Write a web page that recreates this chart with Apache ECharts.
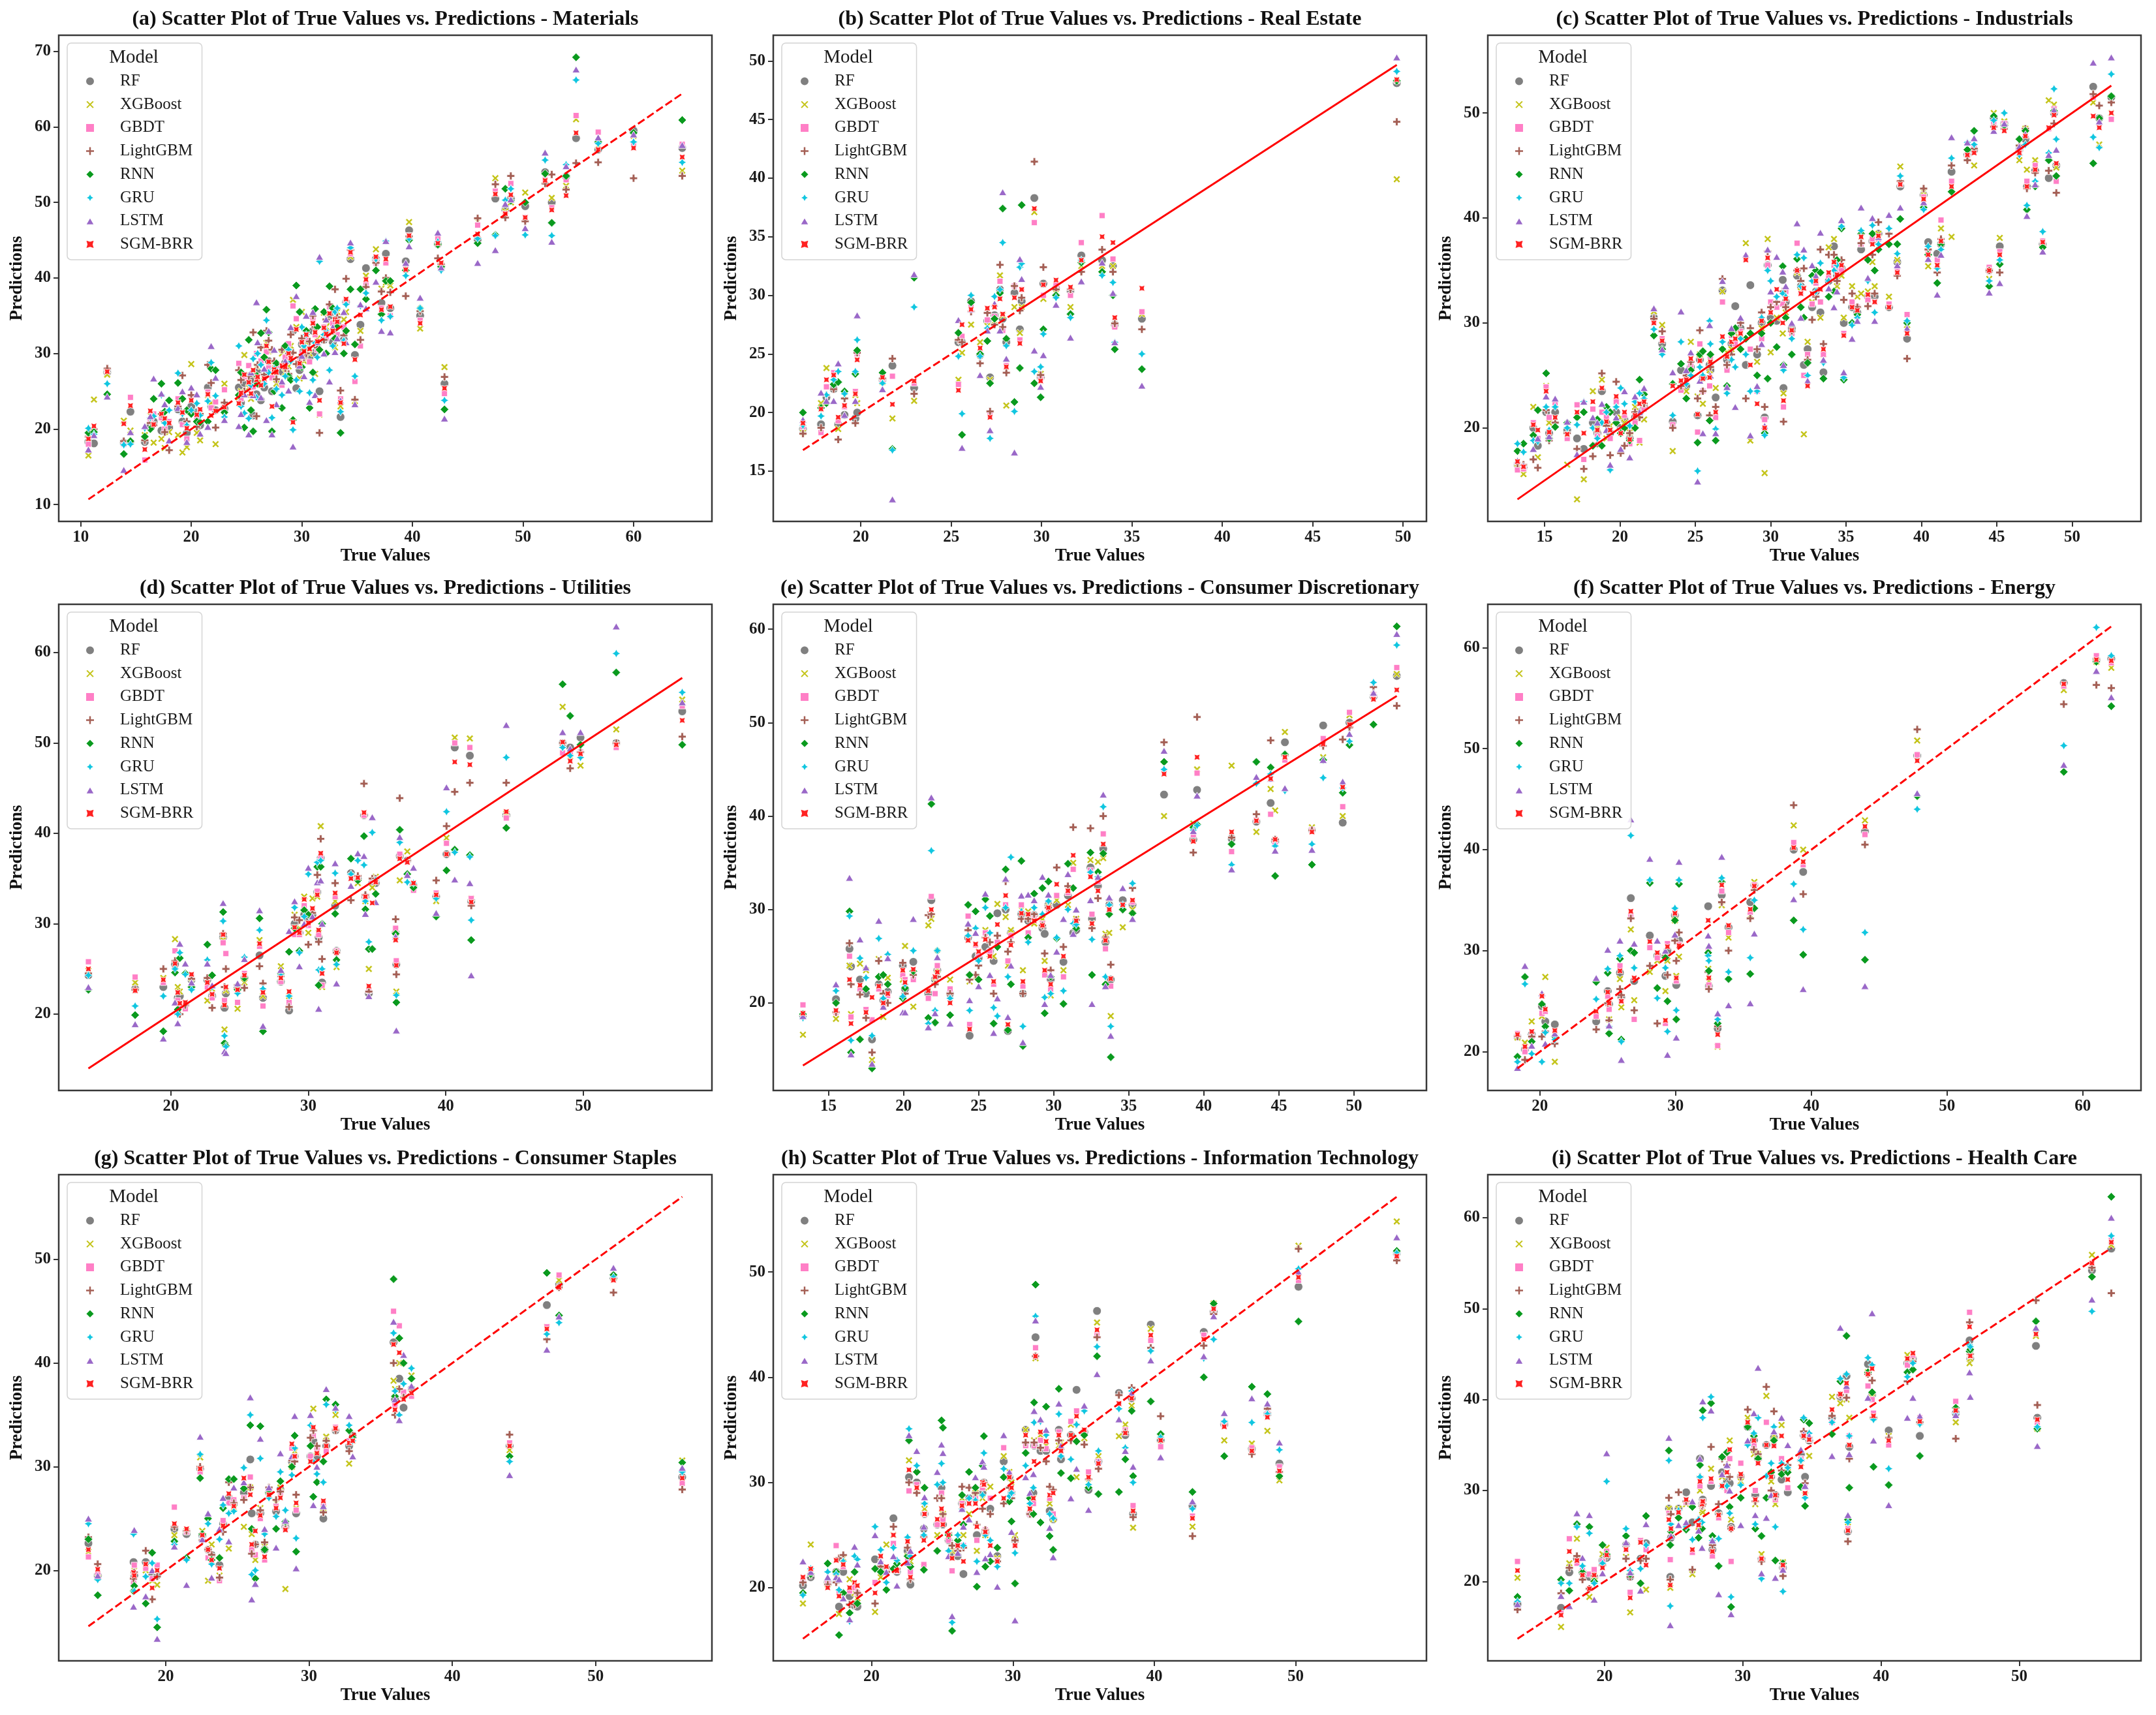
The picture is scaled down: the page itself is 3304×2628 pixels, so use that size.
<!DOCTYPE html>
<html>
<head>
<meta charset="utf-8">
<script src="https://cdn.jsdelivr.net/npm/echarts@6/dist/echarts.min.js"></script>
<style>
html, body { margin: 0; padding: 0; background: #fff; }
#chart { width: 3304px; height: 2628px; }
</style>
</head>
<body>
<div id="chart"></div>
<script>
// model order used in every row after the true value
var models = ['RF', 'XGBoost', 'GBDT', 'LightGBM', 'RNN', 'GRU', 'LSTM', 'SGM-BRR'];
var sectors = ['Materials', 'Real Estate', 'Industrials', 'Utilities', 'Consumer Discretionary',
               'Energy', 'Consumer Staples', 'Information Technology', 'Health Care'];
var letters = ['a', 'b', 'c', 'd', 'e', 'f', 'g', 'h', 'i'];

// rows: [true, RF, XGBoost, GBDT, LightGBM, RNN, GRU, LSTM, SGM-BRR]
var materialsRows = [
  [10.7, 18.3, 16.5, 18.0, 19.0, 19.5, 20.1, 17.3, 18.7],
  [11.2, 18.1, 23.9, 19.8, 20.0, 19.6, 19.3, 19.2, 20.4],
  [12.4, 27.5, 27.2, 27.8, 28.0, 24.6, 26.0, 24.3, 27.6],
  [13.9, 18.2, 21.1, 18.0, 18.4, 16.7, 17.9, 14.6, 20.7],
  [14.5, 22.3, 19.8, 24.2, 18.3, 18.4, 18.0, 19.6, 23.1],
  [15.8, 18.3, 19.2, 15.9, 18.5, 19.0, 20.1, 20.4, 17.3],
  [16.3, 20.4, 21.8, 21.1, 20.8, 20.0, 21.5, 21.7, 22.4],
  [16.6, 21.0, 18.2, 22.0, 20.5, 24.0, 21.7, 26.7, 20.6],
  [17.3, 19.8, 18.7, 21.5, 22.0, 26.0, 24.5, 24.7, 22.0],
  [17.6, 21.1, 17.5, 20.0, 19.6, 22.3, 20.8, 23.3, 21.4],
  [18.0, 20.2, 19.6, 21.0, 17.2, 23.8, 22.5, 18.5, 20.8],
  [18.8, 22.6, 19.2, 24.0, 23.0, 26.1, 27.4, 22.8, 23.5],
  [19.2, 21.0, 16.9, 20.6, 27.1, 24.0, 22.0, 25.0, 22.2],
  [19.6, 19.5, 17.6, 18.7, 21.0, 22.5, 20.5, 18.3, 20.1],
  [20.0, 23.0, 28.6, 24.2, 24.5, 22.0, 22.5, 25.5, 23.8],
  [20.5, 22.2, 19.5, 21.6, 20.3, 21.0, 23.4, 24.6, 21.9],
  [20.8, 20.5, 18.5, 22.3, 22.0, 20.9, 21.8, 19.4, 22.6],
  [21.5, 25.5, 24.5, 24.9, 28.5, 21.0, 23.7, 20.3, 24.6],
  [21.8, 23.0, 23.5, 22.8, 26.1, 28.0, 28.8, 31.0, 21.8],
  [22.2, 22.5, 18.0, 23.6, 20.2, 27.8, 24.4, 26.8, 22.4],
  [23.0, 22.7, 26.0, 25.2, 23.5, 22.2, 21.6, 21.2, 22.9],
  [24.3, 25.5, 24.2, 28.7, 27.8, 24.5, 31.0, 20.4, 23.4],
  [24.5, 23.5, 25.0, 24.0, 26.5, 27.5, 23.0, 22.0, 24.8],
  [24.8, 26.1, 29.8, 26.8, 25.0, 20.2, 22.1, 24.6, 27.2],
  [25.2, 27.0, 25.5, 28.4, 27.0, 31.8, 21.4, 19.3, 26.2],
  [25.4, 26.5, 24.0, 25.5, 24.5, 22.5, 25.8, 27.5, 24.7],
  [25.6, 21.8, 27.3, 25.6, 32.8, 19.7, 29.3, 24.5, 27.8],
  [25.9, 24.6, 28.3, 30.0, 21.7, 27.1, 24.2, 36.8, 26.5],
  [26.0, 27.5, 25.8, 27.0, 28.5, 26.0, 30.0, 31.5, 26.9],
  [26.3, 23.8, 26.3, 29.0, 30.8, 32.7, 28.5, 24.2, 25.8],
  [26.6, 25.5, 27.0, 26.2, 27.2, 29.5, 26.0, 28.0, 26.7],
  [26.8, 27.3, 31.4, 30.2, 33.0, 35.8, 34.4, 21.2, 31.0],
  [27.0, 29.0, 30.3, 28.1, 31.7, 32.8, 27.5, 33.0, 28.9],
  [27.3, 25.0, 27.2, 26.8, 30.5, 19.7, 21.5, 19.3, 23.0],
  [27.5, 27.0, 28.5, 27.8, 29.0, 25.0, 28.0, 30.5, 27.9],
  [27.7, 28.5, 26.0, 28.4, 26.6, 28.7, 25.3, 23.3, 27.5],
  [28.2, 27.6, 30.0, 25.8, 30.5, 22.8, 24.5, 26.3, 28.4],
  [28.5, 28.8, 27.5, 29.5, 28.0, 31.0, 27.0, 29.0, 28.2],
  [28.8, 29.8, 28.3, 31.3, 27.3, 27.0, 30.5, 25.1, 30.0],
  [29.0, 30.2, 31.0, 29.6, 32.5, 26.5, 29.0, 33.5, 29.4],
  [29.2, 33.0, 37.1, 36.3, 30.1, 21.2, 19.9, 17.7, 20.9],
  [29.5, 25.4, 33.5, 34.6, 28.6, 39.0, 26.5, 37.6, 33.2],
  [29.8, 27.8, 26.7, 29.3, 29.5, 35.5, 25.0, 28.4, 28.7],
  [30.0, 31.2, 35.5, 30.2, 32.0, 28.2, 33.5, 29.7, 31.5],
  [30.2, 29.8, 29.0, 30.8, 29.5, 30.5, 31.0, 27.0, 30.3],
  [30.4, 30.8, 31.5, 32.0, 30.0, 33.0, 32.5, 35.0, 32.5],
  [30.7, 29.5, 30.0, 28.9, 31.6, 22.8, 24.8, 23.6, 30.6],
  [31.0, 33.0, 34.1, 34.5, 35.0, 27.5, 26.5, 35.5, 34.0],
  [31.2, 30.1, 27.3, 32.5, 33.5, 35.9, 31.4, 24.5, 32.8],
  [31.4, 31.0, 32.0, 30.5, 30.8, 33.5, 29.5, 31.5, 31.6],
  [31.6, 25.0, 21.9, 22.0, 19.5, 30.5, 42.2, 42.8, 23.8],
  [32.0, 31.8, 35.4, 33.5, 31.8, 35.5, 32.5, 30.0, 33.4],
  [32.2, 32.5, 33.5, 32.0, 34.5, 30.0, 33.0, 34.5, 32.6],
  [32.5, 35.0, 34.0, 36.2, 36.5, 38.9, 27.8, 26.3, 35.3],
  [32.8, 31.5, 32.8, 34.0, 33.0, 36.0, 31.0, 33.5, 33.0],
  [33.0, 33.6, 30.8, 33.2, 38.5, 32.0, 35.5, 30.2, 34.5],
  [33.2, 34.0, 35.5, 32.5, 34.8, 33.5, 36.0, 32.0, 34.2],
  [33.5, 21.6, 23.0, 24.0, 25.1, 19.5, 22.3, 23.8, 23.5],
  [33.8, 31.8, 34.5, 33.5, 32.4, 30.0, 31.7, 35.5, 31.3],
  [34.0, 36.8, 35.5, 37.0, 39.9, 33.0, 36.5, 31.5, 37.2],
  [34.4, 42.5, 42.8, 43.2, 43.7, 38.5, 44.0, 44.7, 43.4],
  [34.8, 29.8, 23.7, 26.3, 23.9, 31.2, 27.0, 23.3, 29.2],
  [35.3, 33.8, 33.0, 31.0, 31.8, 38.5, 36.3, 36.5, 35.1],
  [35.8, 41.3, 40.3, 39.3, 38.8, 37.2, 38.0, 36.0, 39.8],
  [36.7, 42.5, 43.8, 42.0, 42.0, 41.0, 42.5, 39.5, 42.8],
  [37.2, 36.7, 38.6, 36.0, 38.2, 35.2, 34.4, 33.0, 35.8],
  [37.6, 43.2, 39.4, 42.0, 40.0, 39.6, 44.9, 44.9, 42.5],
  [38.0, 36.0, 39.0, 35.0, 38.1, 39.6, 34.9, 32.8, 36.2],
  [39.4, 42.2, 41.5, 41.5, 37.6, 41.0, 40.3, 42.0, 41.1],
  [39.7, 46.3, 47.4, 45.6, 45.5, 45.0, 45.2, 44.2, 45.6],
  [40.7, 35.0, 33.3, 34.4, 35.6, 36.0, 36.0, 37.4, 34.0],
  [42.3, 44.5, 45.0, 45.2, 42.6, 44.4, 44.8, 46.0, 44.6],
  [42.6, 41.5, 41.7, 41.2, 41.8, 41.5, 41.0, 41.4, 42.0],
  [42.9, 26.0, 28.2, 24.7, 26.9, 22.6, 23.8, 21.4, 25.4],
  [45.9, 45.1, 47.5, 47.0, 47.9, 44.6, 45.2, 42.0, 45.8],
  [47.5, 50.5, 53.2, 51.5, 52.4, 45.7, 45.6, 43.7, 51.1],
  [48.4, 49.0, 48.8, 48.5, 48.0, 51.8, 50.3, 49.8, 48.5],
  [48.9, 50.5, 50.0, 52.5, 53.5, 50.2, 51.8, 50.4, 51.0],
  [50.2, 49.5, 51.3, 48.0, 47.5, 50.0, 45.7, 46.6, 48.0],
  [52.0, 54.0, 53.5, 53.0, 52.5, 53.8, 55.6, 56.6, 52.9],
  [52.6, 50.0, 50.6, 49.3, 53.7, 47.3, 45.6, 44.8, 49.0],
  [53.9, 53.4, 52.2, 53.0, 51.7, 53.5, 55.0, 54.8, 50.9],
  [54.8, 58.5, 61.0, 61.5, 55.2, 69.2, 66.2, 67.6, 59.2],
  [56.8, 57.0, 57.5, 59.3, 55.3, 58.0, 57.8, 58.6, 57.0],
  [60.0, 59.5, 58.8, 57.5, 53.2, 59.2, 58.0, 59.0, 57.2],
  [64.4, 57.2, 54.2, 57.7, 53.5, 60.9, 55.3, 57.6, 56.0]
];

var realEstateRows = [
  [16.8, 18.6, 18.3, 18.8, 18.2, 20.0, 18.9, 19.4, 19.1],
  [17.8, 19.0, 20.8, 18.3, 18.7, 20.4, 19.7, 21.7, 20.3],
  [18.1, 21.3, 23.8, 22.2, 21.5, 20.8, 21.5, 21.0, 22.8],
  [18.5, 22.0, 22.6, 23.4, 22.0, 22.4, 22.8, 21.0, 23.2],
  [18.75, 19.0, 18.6, 19.3, 17.7, 22.6, 23.5, 24.2, 19.6],
  [19.1, 19.8, 21.4, 20.5, 21.2, 21.8, 21.6, 19.8, 20.6],
  [19.7, 19.5, 21.5, 21.8, 19.1, 23.3, 23.5, 21.0, 21.6],
  [19.8, 20.0, 20.8, 25.0, 25.1, 25.3, 26.2, 28.3, 24.5],
  [21.2, 22.8, 22.6, 22.7, 22.9, 23.4, 22.5, 22.0, 23.0],
  [21.75, 24.0, 19.5, 23.1, 24.6, 16.9, 16.8, 12.6, 20.7],
  [22.95, 22.1, 21.0, 22.5, 21.6, 31.5, 29.0, 31.8, 22.7],
  [25.4, 26.0, 22.8, 22.4, 26.2, 26.8, 24.8, 27.9, 21.9],
  [25.6, 26.0, 25.1, 26.5, 26.0, 18.1, 19.9, 17.0, 27.5],
  [26.1, 29.5, 27.5, 29.0, 28.6, 29.4, 30.0, 28.8, 28.8],
  [26.6, 24.9, 26.0, 25.0, 24.2, 25.0, 24.8, 23.2, 25.5],
  [27.0, 27.8, 27.4, 27.9, 28.5, 26.1, 27.2, 27.0, 28.9],
  [27.15, 23.0, 22.8, 19.8, 20.1, 22.5, 17.8, 18.5, 19.6],
  [27.4, 28.3, 27.8, 28.2, 27.5, 28.0, 29.9, 29.3, 29.0],
  [27.7, 30.5, 31.7, 31.2, 32.6, 30.2, 30.5, 27.0, 29.7],
  [27.85, 28.0, 28.3, 27.0, 27.3, 37.4, 34.5, 38.8, 28.4],
  [28.05, 26.0, 20.6, 24.0, 23.4, 26.3, 25.7, 24.6, 23.9],
  [28.5, 30.2, 29.0, 30.8, 30.8, 20.9, 20.1, 16.6, 29.8],
  [28.8, 27.1, 26.8, 26.2, 28.7, 23.8, 32.4, 33.1, 25.9],
  [28.9, 29.5, 29.0, 30.5, 29.8, 37.7, 32.7, 31.4, 30.5],
  [29.6, 38.3, 37.1, 36.2, 41.4, 22.5, 23.5, 25.3, 37.4],
  [29.95, 23.0, 23.3, 22.9, 23.2, 21.3, 23.9, 22.2, 22.7],
  [30.1, 31.0, 29.7, 30.0, 32.4, 27.1, 26.7, 24.9, 30.9],
  [30.8, 30.6, 30.2, 30.9, 30.5, 30.0, 29.8, 29.2, 31.3],
  [31.6, 30.4, 29.0, 30.0, 30.5, 28.4, 28.1, 26.4, 30.7],
  [32.2, 33.4, 32.5, 34.5, 32.0, 32.8, 33.0, 31.2, 33.0],
  [33.35, 33.0, 32.5, 36.8, 33.9, 32.0, 31.7, 32.8, 35.0],
  [33.95, 32.5, 32.5, 33.1, 32.0, 30.0, 31.1, 30.2, 34.5],
  [34.05, 27.5, 27.4, 27.3, 27.6, 25.4, 26.0, 26.0, 28.1],
  [35.55, 28.0, 28.4, 28.6, 27.1, 23.7, 25.0, 22.3, 30.6],
  [49.65, 48.1, 39.9, 48.3, 44.8, 48.3, 49.1, 50.3, 48.4]
];

var industrialsRows = [
  [13.2, 16.5, 16.2, 16.0, 16.6, 17.8, 18.5, 16.9, 16.8],
  [13.6, 16.2, 15.6, 16.1, 16.5, 18.5, 17.7, 16.4, 16.3],
  [14.25, 20.0, 22.0, 20.5, 17.0, 19.3, 18.8, 18.0, 20.3],
  [14.55, 18.3, 17.2, 19.0, 16.2, 21.7, 18.7, 19.0, 19.8],
  [15.1, 21.5, 24.0, 23.9, 21.7, 25.2, 22.0, 23.0, 23.5],
  [15.3, 19.5, 20.5, 21.0, 18.8, 19.0, 19.8, 19.2, 19.6],
  [15.7, 21.5, 22.2, 22.4, 20.5, 20.1, 22.0, 22.8, 21.0],
  [16.5, 19.8, 16.5, 19.0, 19.5, 20.5, 20.0, 20.6, 19.4],
  [17.15, 19.0, 13.2, 22.2, 18.0, 21.0, 20.3, 17.5, 21.5],
  [17.6, 18.0, 15.1, 17.0, 16.1, 21.5, 22.5, 22.5, 19.5],
  [18.2, 20.5, 23.5, 21.8, 17.3, 18.3, 20.0, 21.0, 22.5],
  [18.5, 19.5, 20.0, 19.2, 18.5, 20.8, 19.0, 20.5, 19.8],
  [18.8, 23.5, 24.6, 21.5, 25.2, 18.3, 20.5, 22.3, 23.8],
  [19.1, 20.5, 19.0, 21.0, 20.2, 22.0, 21.5, 19.8, 20.6],
  [19.35, 19.5, 20.2, 19.0, 17.4, 21.5, 16.0, 16.5, 19.8],
  [19.75, 21.5, 22.5, 22.5, 24.4, 20.5, 22.0, 21.0, 23.0],
  [20.05, 20.0, 21.0, 19.8, 17.6, 19.5, 23.8, 18.0, 19.5],
  [20.3, 20.8, 20.5, 21.2, 18.3, 20.0, 22.3, 23.5, 21.5],
  [20.65, 19.0, 19.6, 18.5, 19.5, 18.8, 20.2, 17.2, 18.9],
  [21.0, 21.0, 22.0, 20.5, 21.5, 20.0, 22.5, 23.0, 21.2],
  [21.3, 21.5, 18.6, 18.8, 21.0, 24.6, 23.3, 21.5, 22.3],
  [21.6, 22.0, 20.8, 21.8, 22.3, 23.2, 22.8, 23.8, 22.5],
  [22.25, 30.5, 31.1, 30.2, 30.4, 28.8, 29.4, 31.4, 30.0],
  [22.8, 28.0, 29.8, 28.5, 29.2, 27.5, 27.0, 27.5, 28.3],
  [23.5, 20.6, 17.8, 20.3, 20.0, 24.2, 21.2, 25.3, 24.0],
  [24.05, 25.5, 24.2, 23.6, 24.0, 26.1, 28.2, 31.1, 24.5],
  [24.4, 24.0, 23.5, 24.5, 25.0, 22.8, 24.2, 25.5, 24.6],
  [24.7, 25.8, 28.2, 26.0, 26.3, 25.5, 25.0, 27.2, 26.6],
  [25.15, 21.2, 23.0, 19.6, 22.8, 18.6, 15.9, 14.9, 21.3],
  [25.3, 26.5, 27.0, 28.0, 29.3, 27.0, 25.8, 24.5, 26.4],
  [25.5, 24.8, 22.3, 23.5, 23.5, 27.3, 25.0, 19.5, 24.7],
  [25.95, 26.0, 25.5, 24.0, 21.2, 20.7, 30.2, 29.8, 24.8],
  [26.0, 25.5, 26.5, 26.8, 25.8, 27.0, 28.0, 25.0, 26.3],
  [26.35, 22.9, 23.8, 21.0, 22.0, 18.8, 19.9, 19.5, 21.5],
  [26.8, 33.1, 33.0, 32.0, 34.2, 27.5, 28.2, 34.0, 28.7],
  [27.1, 26.5, 27.2, 25.5, 26.0, 24.0, 23.3, 23.9, 26.8],
  [27.4, 28.0, 27.5, 28.8, 27.0, 29.0, 26.5, 29.5, 28.2],
  [27.65, 31.6, 29.0, 28.0, 29.3, 29.5, 25.8, 22.0, 28.5],
  [28.0, 29.5, 28.8, 29.2, 30.0, 27.5, 28.5, 30.5, 29.0],
  [28.35, 26.0, 37.6, 36.2, 22.8, 28.5, 27.0, 36.5, 36.0],
  [28.65, 33.6, 18.8, 27.5, 29.5, 29.0, 23.5, 19.3, 26.0],
  [29.1, 27.0, 26.3, 23.5, 27.5, 25.0, 23.5, 24.0, 22.3],
  [29.4, 30.0, 29.5, 28.5, 31.0, 29.0, 30.5, 28.0, 30.2],
  [29.6, 21.0, 15.7, 20.8, 22.0, 19.5, 19.3, 20.2, 20.0],
  [29.8, 35.5, 38.0, 35.5, 36.8, 24.7, 35.0, 37.0, 36.2],
  [30.0, 30.5, 27.2, 32.0, 31.5, 30.0, 34.0, 33.0, 31.0],
  [30.4, 30.2, 30.5, 31.5, 32.0, 27.7, 32.5, 36.3, 33.2],
  [30.8, 34.1, 29.0, 31.8, 33.0, 35.4, 32.8, 34.9, 30.0],
  [30.85, 23.8, 23.3, 22.0, 20.6, 26.0, 25.5, 26.0, 22.6],
  [31.0, 32.0, 31.0, 33.0, 31.5, 30.5, 32.5, 33.5, 32.3],
  [31.4, 29.5, 28.7, 29.0, 29.2, 27.0, 28.5, 30.0, 29.3],
  [31.75, 34.5, 34.8, 37.6, 35.0, 36.1, 36.5, 39.5, 35.0],
  [32.0, 33.5, 33.0, 32.8, 34.0, 31.5, 33.5, 30.5, 32.8],
  [32.2, 26.0, 19.4, 25.0, 35.2, 30.5, 36.2, 37.0, 33.3],
  [32.45, 27.5, 28.2, 27.0, 26.5, 26.2, 25.0, 24.5, 24.0],
  [32.75, 31.5, 32.0, 31.8, 30.3, 34.5, 34.0, 35.5, 32.8],
  [33.0, 33.0, 34.5, 33.8, 32.5, 35.0, 33.0, 34.5, 34.0],
  [33.3, 31.0, 30.5, 32.0, 37.0, 34.8, 35.7, 38.6, 33.2],
  [33.5, 25.3, 27.0, 27.0, 28.0, 24.7, 26.2, 26.5, 27.5],
  [33.85, 34.0, 37.2, 34.5, 36.5, 32.5, 34.0, 33.3, 34.8],
  [34.2, 37.3, 38.0, 35.5, 36.5, 33.0, 35.0, 31.5, 35.8],
  [34.4, 34.5, 33.5, 35.0, 34.0, 36.0, 35.5, 33.0, 34.6],
  [34.7, 35.2, 34.5, 35.0, 36.0, 39.0, 39.2, 39.8, 35.5],
  [34.85, 30.0, 30.5, 29.0, 32.2, 24.6, 24.8, 25.3, 28.8],
  [35.4, 31.5, 33.5, 32.0, 32.8, 30.0, 29.8, 28.5, 31.5],
  [35.75, 31.0, 32.5, 31.5, 31.5, 30.8, 30.5, 30.2, 31.2],
  [36.0, 37.0, 32.8, 37.5, 37.6, 38.5, 38.8, 41.0, 38.2],
  [36.45, 32.5, 33.0, 32.2, 31.6, 36.0, 34.0, 34.3, 32.7],
  [36.75, 37.8, 35.8, 38.0, 36.5, 38.5, 39.3, 40.0, 37.5],
  [36.9, 32.5, 33.5, 32.0, 32.8, 35.0, 31.0, 30.2, 32.0],
  [37.15, 38.5, 38.5, 38.0, 39.6, 37.0, 37.5, 38.2, 38.3],
  [37.85, 31.5, 32.5, 31.8, 38.5, 37.5, 39.0, 40.3, 31.5],
  [38.4, 35.8, 36.0, 35.0, 34.5, 37.5, 36.6, 35.5, 34.8],
  [38.6, 43.0, 44.9, 43.2, 43.5, 39.9, 44.0, 41.0, 43.2],
  [39.05, 28.5, 29.8, 30.8, 26.6, 30.0, 30.2, 29.5, 29.0],
  [40.15, 42.2, 42.5, 42.0, 42.8, 41.0, 40.8, 41.5, 41.8],
  [40.45, 37.7, 35.4, 36.8, 37.0, 36.5, 37.3, 36.1, 36.5],
  [41.05, 36.6, 35.5, 36.0, 34.8, 33.8, 35.2, 32.7, 35.5],
  [41.3, 37.5, 39.0, 39.8, 38.0, 37.5, 37.0, 36.5, 37.8],
  [42.0, 44.4, 38.2, 43.5, 45.0, 42.5, 45.7, 47.7, 43.0],
  [43.05, 46.0, 45.7, 46.0, 45.5, 46.5, 47.2, 47.2, 46.0],
  [43.5, 46.5, 45.0, 46.8, 46.6, 48.3, 47.0, 47.6, 46.2],
  [44.5, 35.0, 34.2, 35.3, 35.0, 33.5, 34.0, 32.9, 35.0],
  [44.8, 49.5, 50.0, 49.0, 48.7, 49.7, 49.3, 48.3, 48.6],
  [45.2, 37.3, 38.1, 36.8, 34.8, 35.6, 36.0, 33.8, 36.5],
  [45.5, 49.0, 49.2, 49.0, 48.5, 48.8, 50.0, 49.0, 48.3],
  [46.5, 46.5, 45.5, 46.4, 46.9, 47.5, 46.0, 46.8, 46.2],
  [46.9, 47.5, 48.5, 48.2, 48.5, 48.3, 47.0, 48.0, 47.8],
  [47.0, 43.0, 44.6, 43.5, 42.8, 40.8, 41.2, 40.2, 43.0],
  [47.55, 44.5, 45.5, 45.0, 44.3, 43.0, 43.5, 43.2, 44.6],
  [48.05, 37.5, 37.5, 37.8, 37.3, 37.2, 38.7, 36.8, 37.7],
  [48.45, 43.8, 51.2, 48.5, 44.5, 45.5, 46.2, 46.0, 48.6],
  [48.8, 50.0, 50.8, 50.4, 49.0, 50.2, 52.3, 50.3, 49.8],
  [48.95, 45.0, 44.8, 43.5, 42.4, 44.0, 47.5, 46.5, 45.2],
  [51.4, 52.5, 51.0, 51.5, 51.8, 45.2, 47.7, 54.8, 49.7],
  [51.8, 49.5, 47.0, 48.8, 50.7, 49.5, 46.7, 49.2, 48.6],
  [52.6, 51.5, 50.0, 49.4, 51.0, 51.6, 53.7, 55.3, 50.0]
];

var utilitiesRows = [
  [14.0, 24.3, 24.8, 25.8, 24.5, 22.7, 24.3, 23.0, 25.0],
  [17.4, 22.8, 23.5, 24.1, 22.7, 19.9, 20.9, 18.9, 22.6],
  [19.45, 23.0, 24.0, 23.5, 25.0, 18.1, 22.0, 17.3, 23.8],
  [20.3, 25.5, 28.3, 27.0, 25.9, 24.6, 25.0, 21.3, 25.6],
  [20.5, 21.8, 23.0, 21.5, 20.0, 20.5, 20.0, 19.0, 22.4],
  [20.65, 22.0, 22.5, 21.0, 20.0, 26.2, 26.8, 27.8, 21.2],
  [21.05, 21.0, 20.8, 20.6, 21.0, 24.5, 24.4, 25.6, 21.3],
  [21.5, 23.8, 24.0, 24.2, 23.9, 23.0, 22.7, 23.5, 24.4],
  [22.65, 23.8, 21.5, 23.0, 24.0, 27.7, 26.0, 25.6, 23.5],
  [23.0, 22.0, 22.8, 21.8, 20.7, 24.3, 23.0, 23.2, 22.2],
  [23.8, 28.5, 28.2, 27.9, 28.9, 31.3, 30.3, 32.3, 28.8],
  [23.9, 20.7, 18.3, 21.5, 23.0, 16.8, 17.6, 15.9, 21.0],
  [24.0, 22.3, 22.6, 26.7, 25.0, 16.5, 16.4, 15.7, 23.0],
  [24.85, 23.0, 20.6, 21.3, 23.2, 22.7, 22.3, 23.4, 22.7],
  [25.35, 24.0, 23.5, 24.5, 22.9, 24.0, 26.3, 26.1, 24.3],
  [26.45, 26.5, 28.2, 27.5, 25.3, 30.6, 29.3, 31.5, 27.8],
  [26.7, 21.8, 22.0, 20.9, 23.4, 18.1, 22.8, 18.7, 22.4],
  [28.0, 23.6, 25.3, 23.6, 24.2, 24.5, 24.3, 24.9, 24.0],
  [28.6, 20.4, 22.0, 21.3, 20.8, 26.9, 22.0, 29.2, 22.5],
  [29.0, 30.0, 31.0, 28.8, 30.7, 29.5, 31.8, 32.5, 29.6],
  [29.35, 29.0, 29.5, 28.8, 30.4, 27.0, 26.8, 25.3, 29.0],
  [29.7, 31.0, 33.0, 32.0, 31.5, 31.5, 30.8, 30.0, 32.7],
  [30.0, 30.5, 29.0, 29.8, 27.7, 31.0, 35.5, 36.2, 30.1],
  [30.3, 31.0, 32.8, 31.5, 31.2, 30.6, 30.5, 30.8, 31.7],
  [30.65, 33.5, 33.0, 33.6, 35.4, 36.3, 36.8, 34.6, 33.2],
  [30.75, 28.5, 29.0, 28.8, 28.0, 23.2, 24.9, 20.6, 29.3],
  [30.9, 37.3, 40.8, 37.5, 39.4, 36.3, 37.0, 34.8, 37.8],
  [31.0, 23.5, 23.0, 23.2, 26.1, 30.0, 25.0, 30.0, 24.5],
  [31.95, 32.0, 32.5, 33.0, 34.5, 31.1, 35.6, 36.7, 33.4],
  [32.05, 27.0, 25.2, 27.0, 26.8, 26.0, 25.5, 23.4, 26.8],
  [33.1, 35.6, 35.3, 35.2, 32.6, 37.2, 35.5, 34.2, 35.0],
  [33.6, 35.0, 34.5, 34.8, 35.3, 34.8, 37.0, 37.8, 35.1],
  [34.05, 42.0, 42.0, 42.0, 45.5, 39.7, 36.5, 37.5, 42.3],
  [34.15, 33.0, 32.5, 33.0, 33.2, 31.6, 32.5, 31.1, 33.0],
  [34.4, 22.3, 25.0, 22.6, 22.5, 27.2, 28.0, 22.0, 23.1],
  [34.65, 34.5, 34.0, 34.8, 35.0, 27.2, 40.1, 41.8, 32.3],
  [34.9, 34.5, 35.2, 34.9, 35.0, 33.3, 34.8, 32.4, 34.6],
  [36.35, 29.0, 29.3, 29.5, 30.5, 28.9, 28.5, 28.6, 28.2],
  [36.4, 25.5, 22.5, 25.9, 24.4, 21.3, 22.1, 18.2, 25.4],
  [36.65, 37.5, 34.8, 37.7, 43.9, 40.4, 39.0, 39.6, 37.2],
  [37.2, 37.0, 38.0, 36.8, 37.0, 35.5, 34.6, 35.4, 36.8],
  [37.65, 34.2, 34.0, 33.7, 34.3, 34.0, 34.5, 36.2, 34.5],
  [39.3, 33.0, 32.5, 33.4, 34.8, 30.8, 32.8, 31.2, 33.2],
  [40.05, 37.7, 39.5, 38.9, 40.8, 35.9, 42.4, 45.1, 37.7],
  [40.65, 49.5, 50.6, 50.0, 44.6, 38.2, 37.9, 34.9, 47.9],
  [41.75, 48.6, 50.5, 49.5, 45.6, 37.6, 37.4, 34.5, 47.6],
  [41.85, 32.5, 32.8, 32.8, 32.0, 28.2, 30.4, 24.3, 32.4],
  [44.4, 42.0, 42.2, 41.7, 45.6, 40.6, 48.4, 52.0, 42.4],
  [48.5, 50.0, 54.0, 48.9, 50.0, 56.5, 49.5, 51.2, 50.1],
  [49.05, 49.5, 48.5, 49.0, 47.2, 53.0, 48.6, 49.4, 48.0],
  [49.8, 50.6, 47.5, 49.0, 49.0, 49.8, 48.4, 51.2, 48.8],
  [52.4, 50.0, 51.5, 49.5, 50.0, 57.8, 59.9, 62.9, 49.8],
  [57.2, 53.5, 54.8, 54.1, 50.7, 49.8, 55.6, 54.5, 52.5]
];

var discretionaryRows = [
  [13.3, 18.7, 16.6, 19.8, 18.8, 18.8, 18.4, 18.6, 18.9],
  [15.5, 20.4, 18.3, 19.0, 19.0, 20.0, 21.3, 22.0, 19.2],
  [16.4, 25.8, 24.0, 25.0, 26.4, 29.8, 29.3, 33.4, 22.5],
  [16.5, 23.9, 18.8, 18.5, 22.0, 14.7, 16.0, 14.5, 17.8],
  [17.1, 22.5, 24.2, 21.5, 20.9, 16.1, 24.8, 26.8, 21.9],
  [17.5, 21.0, 23.5, 19.3, 18.4, 21.5, 22.7, 23.8, 19.0],
  [17.9, 16.1, 13.9, 18.2, 14.7, 13.0, 16.5, 13.5, 20.6],
  [18.35, 22.0, 24.7, 21.5, 24.5, 22.8, 26.9, 28.8, 21.8],
  [18.65, 20.3, 18.5, 19.5, 21.0, 23.0, 20.5, 19.6, 20.0],
  [18.95, 21.2, 22.7, 20.8, 20.0, 22.0, 25.2, 24.8, 21.0],
  [19.95, 24.0, 22.5, 23.0, 24.3, 20.5, 20.7, 19.0, 23.5],
  [20.1, 21.5, 26.1, 22.5, 21.0, 21.6, 22.0, 19.0, 22.2],
  [20.65, 24.4, 19.6, 22.5, 23.0, 23.4, 25.6, 29.0, 23.6],
  [21.65, 21.0, 28.3, 20.5, 29.4, 18.4, 17.8, 17.4, 21.3],
  [21.85, 31.0, 29.0, 31.4, 29.5, 41.3, 36.3, 42.0, 30.0],
  [22.1, 22.5, 22.3, 21.0, 22.0, 17.9, 19.2, 18.9, 22.8],
  [22.25, 23.5, 23.6, 24.0, 22.8, 25.6, 25.6, 24.9, 23.3],
  [23.1, 21.0, 22.5, 21.5, 21.0, 18.7, 20.5, 17.8, 20.0],
  [24.3, 27.0, 28.0, 29.3, 27.8, 30.5, 27.2, 28.5, 26.7],
  [24.4, 16.5, 22.3, 17.7, 22.5, 23.0, 19.2, 20.3, 17.2],
  [24.8, 25.0, 22.8, 26.2, 23.0, 29.8, 28.0, 27.5, 26.3],
  [25.0, 24.8, 25.5, 25.2, 24.0, 22.5, 24.5, 21.8, 25.5],
  [25.45, 26.0, 27.8, 27.5, 27.0, 31.1, 30.2, 31.7, 26.8],
  [25.75, 25.5, 25.2, 25.5, 26.5, 29.3, 27.5, 23.0, 25.0],
  [26.0, 24.5, 25.0, 22.0, 21.0, 17.8, 19.5, 16.8, 22.3],
  [26.25, 29.6, 30.6, 26.5, 27.2, 26.0, 18.6, 20.5, 28.4],
  [26.8, 30.0, 29.2, 30.5, 33.0, 34.3, 30.2, 33.3, 31.5],
  [26.95, 17.0, 24.0, 24.5, 25.5, 17.1, 22.8, 18.5, 17.7],
  [27.15, 27.5, 27.8, 27.2, 26.5, 22.0, 35.6, 24.0, 26.2],
  [27.85, 29.5, 30.0, 30.5, 29.0, 35.2, 29.8, 31.5, 29.6],
  [27.95, 21.0, 23.5, 21.8, 21.0, 15.4, 17.5, 15.8, 22.3],
  [28.3, 28.8, 29.8, 27.5, 29.0, 27.0, 26.5, 31.6, 29.5],
  [28.7, 29.4, 28.5, 29.0, 29.5, 31.7, 30.2, 31.0, 28.8],
  [29.25, 28.0, 29.0, 28.5, 28.3, 32.3, 29.5, 33.5, 28.3],
  [29.4, 27.4, 24.5, 23.0, 25.3, 18.9, 20.6, 19.9, 23.5],
  [29.65, 30.5, 30.3, 30.0, 30.2, 33.0, 30.9, 31.6, 30.2],
  [29.8, 22.5, 20.8, 21.5, 23.5, 22.8, 21.0, 23.0, 22.0],
  [30.2, 30.5, 31.0, 31.5, 34.5, 26.9, 27.0, 25.5, 32.7],
  [30.65, 24.4, 23.5, 22.8, 26.0, 19.9, 21.3, 29.0, 25.0],
  [30.95, 31.5, 30.5, 31.8, 32.5, 34.9, 30.0, 33.8, 32.0],
  [31.3, 27.5, 35.0, 34.3, 38.8, 32.3, 28.5, 27.4, 35.8],
  [31.5, 27.8, 29.0, 28.3, 28.9, 28.0, 28.4, 30.0, 28.8],
  [32.45, 34.5, 35.3, 34.2, 38.7, 36.1, 34.0, 31.0, 33.5],
  [32.55, 29.0, 28.5, 29.5, 28.0, 23.0, 26.8, 19.9, 28.5],
  [32.95, 32.5, 35.1, 33.0, 31.2, 34.0, 33.5, 33.5, 32.0],
  [33.3, 36.5, 35.5, 38.1, 40.0, 36.0, 41.0, 42.3, 37.0],
  [33.45, 26.5, 27.4, 25.8, 27.0, 22.0, 22.8, 21.8, 26.7],
  [33.7, 30.5, 27.5, 30.0, 31.0, 29.5, 30.5, 31.3, 30.0],
  [33.8, 22.5, 18.6, 21.8, 24.1, 14.2, 17.5, 16.5, 22.6],
  [34.6, 31.0, 28.1, 30.3, 30.0, 30.0, 30.5, 32.3, 30.5],
  [35.25, 30.5, 30.0, 30.8, 32.3, 29.6, 32.8, 29.0, 31.0],
  [37.35, 42.3, 40.0, 44.7, 47.9, 45.8, 45.0, 47.0, 44.5],
  [39.3, 37.5, 39.2, 38.0, 36.1, 38.8, 38.5, 38.4, 37.3],
  [39.55, 42.8, 45.0, 44.6, 50.6, 39.1, 39.0, 42.2, 46.3],
  [41.85, 37.6, 45.4, 36.2, 37.7, 37.0, 34.8, 34.3, 38.3],
  [43.5, 39.4, 38.3, 39.6, 40.2, 45.8, 43.5, 44.2, 39.5],
  [44.45, 41.4, 42.9, 40.2, 48.1, 45.2, 44.5, 44.0, 44.0],
  [44.75, 37.3, 40.6, 37.0, 37.5, 33.6, 36.8, 36.3, 37.5],
  [45.4, 47.9, 49.0, 46.0, 46.5, 46.6, 42.7, 43.0, 46.3],
  [47.2, 38.5, 38.8, 38.5, 38.5, 34.8, 37.0, 36.4, 38.3],
  [47.95, 49.7, 46.3, 48.3, 47.5, 46.0, 44.1, 46.0, 47.7],
  [49.25, 39.3, 40.0, 41.0, 48.2, 42.5, 43.0, 43.7, 43.1],
  [49.7, 50.0, 50.8, 51.1, 49.5, 47.6, 48.0, 48.8, 49.8],
  [51.3, 52.8, 53.0, 53.0, 53.8, 49.8, 54.3, 53.2, 52.5],
  [52.85, 55.0, 55.2, 55.9, 51.8, 60.3, 58.3, 59.5, 53.5]
];

var energyRows = [
  [18.35, 21.5, 21.4, 21.8, 21.5, 19.5, 19.0, 18.4, 21.7],
  [18.9, 20.2, 20.9, 20.0, 19.2, 27.4, 26.7, 28.5, 20.5],
  [19.4, 21.7, 23.0, 21.5, 21.5, 21.0, 19.8, 20.6, 22.0],
  [20.15, 24.5, 23.5, 23.8, 21.5, 24.7, 19.0, 25.8, 25.5],
  [20.4, 23.0, 27.4, 24.0, 22.0, 22.5, 21.9, 20.8, 24.2],
  [21.1, 22.7, 19.0, 22.0, 20.8, 21.5, 21.2, 21.8, 22.1],
  [24.15, 23.0, 23.5, 23.5, 22.2, 26.9, 25.2, 27.3, 24.0],
  [25.0, 26.0, 25.5, 25.5, 24.8, 27.8, 28.2, 30.1, 25.9],
  [25.1, 24.7, 23.2, 24.2, 23.1, 21.8, 22.5, 22.6, 24.8],
  [25.9, 27.8, 27.2, 28.5, 26.2, 29.2, 29.5, 31.0, 28.0],
  [26.0, 25.4, 24.4, 25.0, 25.6, 21.2, 21.0, 19.2, 25.0],
  [26.7, 35.2, 32.1, 33.5, 33.2, 30.0, 41.4, 43.0, 33.9],
  [26.95, 27.0, 25.1, 23.2, 24.1, 29.8, 28.3, 30.7, 27.3],
  [28.1, 31.5, 27.9, 30.3, 28.5, 36.7, 37.0, 39.1, 30.9],
  [28.65, 29.5, 29.0, 29.3, 22.8, 26.3, 25.3, 31.0, 29.8],
  [29.25, 27.5, 26.0, 22.8, 29.5, 29.3, 28.3, 30.0, 23.1],
  [29.4, 30.0, 29.0, 30.7, 27.6, 25.0, 22.0, 19.7, 30.4],
  [29.95, 33.5, 33.0, 33.8, 31.0, 33.0, 34.2, 31.6, 33.7],
  [30.05, 26.6, 27.5, 27.0, 29.0, 23.2, 24.1, 21.4, 27.3],
  [30.25, 31.0, 29.4, 30.6, 31.8, 36.6, 37.0, 38.8, 30.5],
  [32.4, 34.4, 28.2, 30.0, 27.9, 29.8, 29.5, 31.5, 33.0],
  [32.45, 26.5, 27.0, 26.6, 26.2, 28.0, 29.0, 30.5, 27.3],
  [33.1, 22.3, 20.5, 20.6, 22.5, 22.8, 23.2, 23.8, 21.7],
  [33.4, 35.5, 34.5, 35.9, 34.8, 36.8, 37.2, 39.3, 36.5],
  [33.9, 32.3, 31.3, 31.8, 30.0, 27.2, 27.9, 24.6, 32.5],
  [35.5, 34.8, 33.5, 33.8, 33.2, 27.7, 29.3, 24.8, 34.1],
  [35.8, 36.5, 36.8, 36.5, 36.0, 34.2, 35.0, 31.7, 36.4],
  [38.7, 40.0, 42.4, 40.7, 44.4, 33.0, 36.6, 35.1, 40.2],
  [39.4, 37.8, 40.0, 38.5, 35.6, 29.6, 32.1, 26.2, 38.8],
  [43.95, 41.8, 42.9, 41.5, 40.5, 29.1, 31.8, 26.5, 42.3],
  [47.8, 49.3, 50.8, 49.4, 51.9, 45.3, 44.0, 45.6, 48.8],
  [58.6, 56.5, 55.8, 56.2, 54.4, 47.7, 50.3, 48.4, 56.4],
  [61.0, 58.8, 58.6, 59.2, 56.3, 58.6, 62.0, 57.7, 58.8],
  [62.1, 58.9, 58.0, 58.5, 56.0, 54.2, 59.2, 55.1, 58.7]
];

var staplesRows = [
  [14.6, 22.6, 21.8, 21.3, 23.2, 23.0, 24.5, 25.0, 22.0],
  [15.25, 19.5, 19.3, 19.8, 20.6, 17.6, 19.1, 19.5, 20.1],
  [17.75, 20.8, 19.0, 18.8, 19.2, 18.0, 23.5, 16.5, 19.8],
  [17.8, 19.5, 20.0, 20.5, 19.8, 18.5, 18.0, 23.9, 19.5],
  [18.6, 20.8, 20.0, 20.2, 21.9, 16.8, 19.4, 17.5, 20.6],
  [19.05, 19.5, 19.0, 19.2, 17.2, 21.7, 20.7, 20.0, 18.3],
  [19.4, 19.5, 18.6, 20.5, 19.4, 14.5, 15.3, 13.4, 20.0],
  [20.6, 24.0, 23.4, 26.1, 24.2, 22.8, 22.5, 22.3, 24.5],
  [21.45, 23.5, 23.8, 23.7, 23.8, 21.2, 21.0, 18.6, 24.0],
  [22.4, 29.8, 30.9, 29.5, 30.0, 28.9, 31.2, 32.9, 29.8],
  [22.55, 23.3, 23.8, 23.0, 22.9, 23.5, 23.2, 23.0, 23.4],
  [22.95, 22.0, 19.0, 21.2, 22.0, 25.0, 24.5, 25.5, 22.0],
  [23.2, 21.5, 22.5, 21.0, 21.5, 21.0, 20.6, 19.3, 21.0],
  [23.75, 20.5, 19.5, 19.0, 19.3, 21.2, 23.0, 24.0, 20.2],
  [24.0, 24.5, 24.5, 24.8, 23.7, 26.0, 26.3, 27.0, 24.3],
  [24.4, 27.0, 22.1, 26.5, 28.5, 28.8, 25.5, 22.8, 27.4],
  [24.75, 26.4, 26.0, 26.8, 26.5, 28.8, 25.7, 28.0, 26.2],
  [25.45, 27.5, 24.2, 27.0, 26.8, 27.9, 29.9, 28.5, 28.9],
  [25.9, 30.7, 28.0, 29.0, 28.0, 34.0, 35.0, 36.7, 27.3],
  [26.0, 25.5, 23.5, 22.0, 21.6, 24.0, 19.6, 17.2, 22.5],
  [26.25, 22.5, 21.0, 21.5, 22.5, 19.2, 20.0, 18.7, 23.8],
  [26.6, 25.5, 26.0, 25.0, 25.8, 33.9, 30.8, 32.7, 25.3],
  [26.9, 22.0, 22.3, 21.0, 22.7, 22.0, 23.5, 24.0, 21.3],
  [27.2, 27.5, 27.6, 27.8, 28.0, 27.5, 27.0, 28.0, 27.3],
  [27.7, 25.7, 26.5, 26.2, 26.8, 24.0, 25.2, 22.2, 26.0],
  [28.0, 27.8, 28.0, 27.5, 27.6, 28.6, 29.5, 31.3, 27.0],
  [28.35, 24.2, 18.2, 24.0, 24.5, 24.7, 25.8, 24.8, 23.9],
  [28.8, 30.5, 30.0, 31.8, 30.6, 30.0, 29.2, 31.0, 32.2],
  [29.0, 31.0, 31.5, 31.0, 30.5, 33.0, 31.8, 34.9, 31.0],
  [29.1, 25.5, 26.0, 25.8, 27.3, 21.8, 23.1, 20.2, 26.5],
  [30.1, 31.0, 30.5, 31.0, 32.8, 32.0, 34.0, 35.0, 30.5],
  [30.3, 32.5, 35.6, 33.0, 33.5, 27.1, 30.5, 26.3, 33.8],
  [30.55, 31.0, 31.5, 31.8, 32.0, 28.5, 29.3, 30.0, 31.3],
  [31.0, 25.0, 26.0, 26.5, 25.6, 30.5, 28.5, 26.2, 26.7],
  [31.2, 32.0, 32.9, 31.5, 32.5, 36.5, 36.0, 37.5, 32.0],
  [31.85, 33.5, 35.0, 33.8, 33.5, 36.0, 35.5, 35.7, 33.7],
  [32.8, 32.0, 30.3, 32.5, 31.5, 33.5, 34.0, 34.9, 32.3],
  [33.05, 33.0, 32.5, 32.8, 33.0, 32.8, 32.5, 31.0, 32.5],
  [35.9, 42.0, 38.3, 45.0, 40.0, 48.1, 42.9, 44.0, 41.8],
  [36.0, 36.5, 37.5, 36.0, 35.0, 36.8, 37.3, 36.5, 35.5],
  [36.3, 38.5, 40.0, 43.6, 37.5, 42.4, 35.0, 34.5, 41.0],
  [36.6, 35.7, 37.0, 37.2, 36.7, 40.0, 38.0, 40.8, 36.5],
  [37.15, 37.5, 38.8, 36.8, 37.5, 38.5, 39.5, 37.8, 37.1],
  [44.0, 32.0, 31.6, 32.3, 33.1, 31.0, 30.5, 29.2, 32.0],
  [46.6, 45.6, 43.5, 43.5, 42.3, 48.7, 42.8, 41.3, 43.3],
  [47.45, 47.6, 48.0, 48.5, 47.3, 44.6, 43.9, 44.5, 47.3],
  [51.25, 48.2, 48.3, 48.5, 46.8, 48.5, 48.3, 49.2, 48.0],
  [56.05, 29.0, 30.6, 28.4, 27.8, 30.4, 29.5, 29.9, 28.9]
];

var techRows = [
  [15.15, 20.2, 18.5, 20.8, 20.5, 19.5, 19.3, 22.5, 21.0],
  [15.7, 21.0, 24.1, 21.5, 21.2, 21.3, 21.8, 21.5, 21.8],
  [16.9, 20.5, 20.3, 20.5, 20.3, 22.3, 21.5, 21.0, 20.0],
  [17.5, 21.5, 21.0, 24.0, 20.5, 21.5, 21.3, 21.0, 22.6],
  [17.7, 18.2, 17.5, 19.5, 22.8, 15.5, 19.8, 20.8, 19.2],
  [18.0, 21.5, 22.8, 22.0, 23.1, 19.5, 22.5, 19.0, 22.2],
  [18.45, 19.2, 20.8, 19.7, 18.4, 17.6, 16.8, 17.0, 20.0],
  [18.8, 18.3, 19.5, 20.0, 18.4, 21.5, 23.0, 23.9, 20.5],
  [19.0, 18.2, 19.0, 19.5, 19.5, 18.5, 22.7, 22.2, 20.2],
  [20.25, 22.7, 17.7, 20.5, 18.5, 21.8, 25.8, 25.0, 19.5],
  [20.65, 22.0, 21.0, 22.3, 22.0, 21.5, 23.6, 22.5, 23.0],
  [21.05, 21.8, 24.1, 21.5, 21.5, 19.8, 20.5, 21.5, 22.0],
  [21.55, 26.6, 25.0, 24.2, 25.8, 21.8, 23.8, 23.0, 25.0],
  [21.8, 21.5, 22.0, 21.6, 21.8, 22.3, 22.6, 20.2, 21.6],
  [22.55, 23.5, 23.0, 22.8, 23.8, 23.0, 24.8, 22.4, 24.4],
  [22.65, 30.5, 32.1, 29.2, 30.0, 34.0, 35.1, 34.5, 31.2],
  [22.75, 20.3, 22.5, 21.5, 20.8, 22.0, 23.0, 23.5, 21.0],
  [23.2, 30.0, 29.5, 29.8, 29.0, 31.0, 31.6, 33.0, 29.5],
  [23.7, 25.6, 22.0, 22.2, 24.8, 21.7, 25.0, 25.8, 24.5],
  [23.75, 27.0, 27.5, 27.0, 28.0, 29.5, 28.0, 28.6, 27.0],
  [24.65, 26.0, 25.0, 26.0, 28.5, 23.5, 29.8, 31.0, 26.5],
  [24.95, 29.5, 28.8, 29.0, 28.5, 35.9, 31.8, 33.6, 27.5],
  [25.05, 26.0, 27.0, 26.5, 27.0, 35.2, 30.0, 32.8, 26.0],
  [25.45, 24.5, 24.8, 24.5, 25.2, 25.0, 23.5, 23.0, 25.0],
  [25.7, 23.0, 23.5, 21.6, 24.0, 15.9, 16.7, 17.3, 22.8],
  [26.1, 23.0, 24.0, 23.8, 23.5, 24.5, 25.0, 23.3, 24.0],
  [26.4, 28.0, 28.5, 28.0, 29.6, 28.8, 27.5, 27.5, 27.8],
  [26.5, 21.3, 25.0, 24.0, 23.8, 26.0, 24.0, 25.8, 22.5],
  [26.9, 28.5, 27.0, 28.0, 29.5, 31.0, 28.5, 26.5, 28.0],
  [27.35, 29.0, 29.0, 28.5, 29.0, 29.5, 28.3, 30.5, 28.0],
  [27.45, 25.0, 23.5, 24.5, 26.0, 20.1, 22.5, 21.5, 25.8],
  [27.85, 29.0, 28.5, 29.5, 27.5, 31.6, 28.8, 32.0, 30.0],
  [27.95, 30.0, 29.5, 29.8, 30.0, 34.4, 32.8, 31.5, 29.8],
  [28.05, 25.2, 25.0, 25.5, 25.5, 22.0, 25.0, 22.8, 25.3],
  [28.4, 27.5, 29.6, 28.5, 27.0, 22.5, 24.5, 23.2, 24.0],
  [28.9, 23.0, 22.8, 22.6, 22.5, 23.8, 22.0, 20.1, 22.5],
  [29.35, 32.0, 32.5, 33.3, 28.0, 30.5, 31.3, 34.5, 28.5],
  [29.75, 30.5, 31.0, 30.8, 29.5, 28.2, 28.7, 31.0, 30.5],
  [29.9, 29.0, 30.0, 29.0, 28.5, 26.3, 29.0, 25.3, 29.5],
  [30.15, 24.5, 25.0, 24.0, 24.5, 20.4, 23.3, 16.9, 24.0],
  [30.9, 35.0, 35.0, 33.5, 33.8, 32.8, 31.6, 30.5, 34.5],
  [31.2, 27.0, 27.5, 27.0, 27.0, 28.5, 28.0, 29.0, 27.5],
  [31.45, 29.0, 28.5, 28.0, 27.0, 27.0, 29.5, 30.8, 28.5],
  [31.5, 33.5, 34.0, 33.5, 33.8, 37.6, 35.7, 36.8, 32.0],
  [31.6, 43.8, 41.8, 42.8, 42.0, 48.8, 45.8, 45.4, 42.0],
  [31.95, 33.0, 34.5, 34.0, 33.3, 26.2, 35.8, 36.0, 34.8],
  [32.35, 33.0, 33.5, 33.2, 32.0, 37.2, 34.5, 35.0, 33.9],
  [32.6, 27.3, 28.0, 28.5, 29.6, 24.9, 27.0, 25.7, 28.8],
  [32.85, 26.5, 26.5, 27.0, 29.3, 23.6, 26.6, 22.9, 29.0],
  [33.25, 35.0, 33.5, 34.8, 34.0, 38.9, 36.5, 37.5, 34.5],
  [33.4, 32.2, 33.8, 33.0, 33.2, 30.9, 32.5, 33.5, 33.0],
  [34.1, 34.5, 35.5, 35.8, 34.0, 30.4, 32.2, 28.5, 34.5],
  [34.5, 38.8, 30.5, 36.8, 35.5, 33.9, 35.5, 31.3, 36.3],
  [35.05, 34.8, 34.2, 35.0, 33.6, 34.5, 36.8, 37.3, 35.0],
  [35.35, 29.3, 30.0, 31.0, 30.3, 29.5, 29.8, 27.4, 30.5],
  [35.95, 46.3, 45.2, 44.0, 43.8, 42.0, 42.9, 40.3, 44.5],
  [36.05, 32.0, 32.5, 32.0, 31.3, 28.9, 33.0, 32.0, 31.8],
  [37.5, 38.5, 34.4, 37.5, 38.3, 29.1, 37.0, 36.0, 37.5],
  [37.95, 34.5, 35.5, 35.0, 34.8, 32.2, 33.3, 33.0, 34.7],
  [38.4, 38.0, 37.3, 38.3, 39.0, 36.8, 38.7, 38.5, 38.0],
  [38.5, 27.0, 25.7, 27.8, 26.7, 30.6, 30.0, 31.5, 27.3],
  [39.75, 45.0, 44.6, 43.5, 42.8, 37.7, 42.5, 41.6, 44.0],
  [40.45, 34.0, 34.0, 33.4, 36.3, 34.6, 34.3, 32.4, 34.0],
  [42.7, 27.8, 25.8, 26.8, 24.9, 29.1, 27.5, 28.2, 26.6],
  [43.5, 44.3, 44.0, 44.0, 43.0, 40.0, 41.8, 42.0, 43.6],
  [44.2, 46.2, 47.0, 46.5, 46.0, 47.0, 43.6, 45.8, 46.5],
  [44.95, 35.5, 34.0, 35.5, 35.8, 32.5, 35.8, 36.6, 35.3],
  [46.9, 33.2, 33.7, 33.3, 32.7, 39.1, 35.7, 38.0, 33.0],
  [48.0, 36.5, 34.9, 36.5, 37.0, 38.4, 36.5, 37.5, 36.2],
  [48.85, 31.8, 30.2, 31.5, 31.0, 30.6, 33.1, 33.8, 31.1],
  [50.2, 48.6, 52.5, 49.2, 52.2, 45.3, 50.3, 50.0, 49.5],
  [57.15, 51.8, 54.8, 51.6, 51.1, 52.0, 51.8, 53.3, 51.5]
];

var healthRows = [
  [13.7, 17.5, 20.4, 22.2, 16.9, 18.3, 17.8, 17.5, 21.2],
  [16.85, 17.1, 15.0, 16.5, 18.7, 20.2, 19.8, 18.4, 16.3],
  [17.45, 21.0, 22.0, 24.7, 21.5, 19.0, 19.8, 17.3, 23.3],
  [18.0, 22.5, 24.7, 22.0, 22.8, 26.3, 26.0, 27.5, 22.3],
  [18.4, 21.0, 21.5, 21.2, 20.2, 21.0, 21.7, 22.6, 20.7],
  [18.9, 20.5, 18.3, 20.8, 19.2, 26.0, 25.3, 27.3, 19.2],
  [19.25, 20.5, 20.5, 21.3, 20.6, 20.0, 19.8, 18.0, 20.7],
  [19.85, 22.3, 23.0, 22.2, 21.8, 24.0, 22.0, 20.9, 21.5],
  [20.15, 22.6, 23.7, 23.3, 22.8, 23.0, 31.0, 34.1, 22.9],
  [21.55, 24.0, 22.7, 23.5, 22.5, 25.0, 25.8, 24.3, 23.5],
  [21.85, 20.5, 16.6, 18.8, 20.5, 20.8, 21.2, 21.0, 18.2],
  [22.6, 22.5, 24.5, 24.5, 22.3, 19.8, 21.4, 19.0, 24.3],
  [23.0, 24.2, 19.1, 23.5, 22.5, 27.2, 24.0, 26.3, 21.8],
  [24.65, 28.0, 28.0, 27.5, 29.2, 34.4, 33.3, 35.8, 26.8],
  [24.75, 20.5, 19.3, 22.4, 20.2, 24.0, 17.3, 15.2, 19.6],
  [24.8, 24.8, 25.6, 25.5, 27.4, 25.5, 26.3, 25.0, 25.8],
  [25.35, 28.0, 28.0, 27.5, 29.8, 27.0, 27.8, 26.2, 27.6],
  [25.9, 29.8, 28.5, 28.7, 28.8, 25.7, 26.0, 26.5, 29.0],
  [26.35, 26.5, 20.8, 23.2, 21.3, 28.2, 24.6, 28.8, 23.5],
  [26.8, 26.5, 26.0, 26.5, 26.8, 24.8, 26.8, 25.6, 26.2],
  [26.9, 33.5, 30.0, 30.5, 31.5, 32.8, 31.5, 33.5, 31.0],
  [27.05, 28.5, 27.8, 28.3, 28.3, 25.8, 26.5, 23.7, 28.5],
  [27.1, 29.0, 27.6, 28.8, 28.5, 38.8, 38.0, 39.8, 28.8],
  [27.7, 30.5, 32.4, 31.0, 34.8, 39.6, 40.3, 38.8, 31.3],
  [27.8, 23.5, 22.8, 22.8, 24.0, 25.0, 24.5, 24.5, 23.3],
  [28.25, 27.5, 27.3, 27.0, 28.5, 21.7, 24.7, 18.6, 27.3],
  [28.5, 32.0, 31.5, 30.5, 33.5, 33.7, 30.5, 31.8, 30.5],
  [28.85, 31.0, 30.2, 30.0, 32.8, 34.2, 30.5, 32.8, 32.0],
  [29.05, 30.8, 35.5, 33.5, 31.5, 28.2, 27.5, 30.0, 34.5],
  [29.15, 26.0, 26.8, 22.2, 25.8, 17.2, 18.3, 16.4, 25.8],
  [29.85, 31.5, 31.0, 33.0, 31.5, 29.2, 30.6, 26.2, 31.8],
  [30.35, 37.0, 38.0, 37.2, 38.9, 37.0, 35.0, 35.5, 37.5],
  [30.8, 35.5, 34.0, 35.0, 34.5, 36.0, 36.3, 38.5, 35.5],
  [30.9, 29.5, 28.5, 30.0, 28.8, 25.8, 26.3, 27.3, 29.0],
  [31.1, 33.5, 34.0, 33.0, 34.0, 33.5, 38.0, 43.5, 33.0],
  [31.35, 22.5, 23.0, 22.5, 22.2, 25.0, 20.3, 20.9, 22.5],
  [31.7, 35.0, 40.4, 37.5, 41.4, 29.2, 31.6, 27.0, 35.0],
  [32.05, 31.5, 31.0, 31.8, 30.0, 32.0, 33.0, 29.5, 31.5],
  [32.25, 35.8, 36.0, 35.0, 38.7, 35.5, 37.0, 36.5, 34.9],
  [32.35, 29.5, 28.5, 29.0, 29.3, 22.3, 26.0, 20.4, 29.5],
  [32.8, 31.2, 37.2, 33.5, 32.2, 31.8, 33.0, 38.0, 36.0],
  [32.9, 21.5, 22.1, 21.5, 20.6, 22.0, 18.9, 21.3, 21.8],
  [33.25, 29.8, 32.5, 30.3, 32.8, 32.0, 32.5, 35.0, 31.2],
  [34.2, 34.0, 33.0, 33.5, 33.3, 30.4, 33.3, 34.5, 32.6],
  [34.4, 36.0, 36.0, 36.2, 36.5, 37.8, 38.0, 36.2, 36.0],
  [34.5, 31.5, 29.5, 30.5, 30.8, 28.3, 29.2, 30.5, 29.7],
  [34.8, 35.5, 33.8, 35.6, 35.8, 37.4, 36.3, 36.0, 35.6],
  [36.45, 38.0, 40.3, 37.5, 38.2, 36.2, 37.5, 33.8, 38.9],
  [37.05, 40.3, 39.6, 40.5, 40.5, 42.0, 42.3, 47.9, 40.6],
  [37.5, 42.6, 40.0, 41.0, 40.2, 47.0, 42.8, 41.5, 41.8],
  [37.6, 25.5, 26.5, 25.8, 24.4, 26.8, 26.5, 27.3, 25.6],
  [37.7, 34.8, 38.0, 36.0, 33.5, 30.3, 36.0, 34.0, 35.0],
  [39.05, 43.9, 43.0, 41.5, 42.8, 43.0, 44.6, 40.2, 42.8],
  [39.35, 40.5, 40.3, 40.0, 42.1, 40.8, 43.8, 49.5, 43.4],
  [39.45, 38.0, 38.0, 38.5, 38.0, 32.6, 37.8, 35.5, 38.2],
  [40.55, 36.6, 36.0, 35.0, 35.8, 30.6, 32.4, 28.4, 35.5],
  [41.9, 44.0, 44.9, 43.8, 42.0, 43.0, 42.5, 38.0, 44.5],
  [42.3, 44.5, 44.5, 44.8, 44.2, 43.3, 44.0, 40.2, 45.1],
  [42.8, 36.0, 37.5, 38.0, 37.5, 33.8, 37.3, 38.2, 37.6],
  [45.4, 38.5, 37.5, 39.8, 35.7, 39.1, 38.5, 38.3, 38.8],
  [46.4, 46.5, 44.0, 49.6, 48.5, 45.3, 46.0, 43.0, 48.0],
  [46.45, 44.5, 44.5, 44.8, 45.0, 45.5, 45.8, 40.3, 44.8],
  [51.2, 45.9, 47.0, 47.5, 50.9, 48.6, 47.5, 47.9, 47.2],
  [51.3, 38.0, 36.8, 37.5, 39.4, 36.8, 37.0, 34.9, 37.8],
  [55.25, 54.2, 55.9, 55.0, 54.5, 53.5, 49.7, 51.0, 55.0],
  [56.65, 56.6, 57.0, 57.5, 51.7, 62.3, 58.0, 60.0, 57.3]
];

var panelRows = [materialsRows, realEstateRows, industrialsRows, utilitiesRows, discretionaryRows,
                 energyRows, staplesRows, techRows, healthRows];

// tick values per panel
var xTickValues = [
  [10, 20, 30, 40, 50, 60], [20, 25, 30, 35, 40, 45, 50], [15, 20, 25, 30, 35, 40, 45, 50],
  [20, 30, 40, 50], [15, 20, 25, 30, 35, 40, 45, 50], [20, 30, 40, 50, 60],
  [20, 30, 40, 50], [20, 30, 40, 50], [20, 30, 40, 50]
];
var yTickValues = [
  [10, 20, 30, 40, 50, 60, 70], [15, 20, 25, 30, 35, 40, 45, 50], [20, 30, 40, 50],
  [20, 30, 40, 50, 60], [20, 30, 40, 50, 60], [20, 30, 40, 50, 60],
  [20, 30, 40, 50], [20, 30, 40, 50], [20, 30, 40, 50, 60]
];
// reference line: dashed up to this true value, solid after it
var dashedUntil = [Infinity, 28.7, -Infinity, -Infinity, -Infinity, Infinity, Infinity, Infinity, Infinity];

var colors = ['#808080', '#c4c41a', '#ff7fc6', '#a45f55', '#0a9a1e', '#10c6e0', '#9a68c8', '#ff2222'];
var symbols = [
  'circle',
  'path://M2,0L5,3L8,0L10,2L7,5L10,8L8,10L5,7L2,10L0,8L3,5L0,2Z',
  'path://M0,0L10,0L10,10L0,10Z',
  'path://M3.4,0L6.6,0L6.6,3.4L10,3.4L10,6.6L6.6,6.6L6.6,10L3.4,10L3.4,6.6L0,6.6L0,3.4L3.4,3.4Z',
  'path://M5,0L10,5L5,10L0,5Z',
  'path://M5,0L6.77,3.23L10,5L6.77,6.77L5,10L3.23,6.77L0,5L3.23,3.23Z',
  'path://M5,0.7L10,9.3L0,9.3Z',
  'path://M0,0L5,1.46L10,0L8.54,5L10,10L5,8.54L0,10L1.46,5Z'
];
var symbolSizes = [13, 11, 9, 12, 13, 13, 12, 9];

var gridLefts = [90, 1185, 2280];
var gridTops = [54, 926, 1800];
var gridW = 1001, gridH = 745;
var serif = 'Liberation Serif';

function padded(lo, hi) {
  var m = (hi - lo) * 0.05;
  return [lo - m, hi + m];
}

var grids = [], xAxes = [], yAxes = [], series = [], legends = [], graphics = [];

panelRows.forEach(function (rows, p) {
  var gl = gridLefts[p % 3], gt = gridTops[Math.floor(p / 3)];
  grids.push({
    left: gl, top: gt, width: gridW, height: gridH,
    show: true, borderColor: '#383838', borderWidth: 2.5,
    containLabel: false, outerBoundsMode: 'none'
  });

  var xs = rows.map(function (r) { return r[0]; });
  var all = [];
  rows.forEach(function (r) { for (var k = 0; k < r.length; k++) all.push(r[k]); });
  var xLo = Math.min.apply(null, xs), xHi = Math.max.apply(null, xs);
  var xr = padded(xLo, xHi);
  var yr = padded(Math.min.apply(null, all), Math.max.apply(null, all));

  xAxes.push({
    type: 'value', gridIndex: p, min: xr[0], max: xr[1],
    axisLine: { show: false },
    axisTick: { show: true, length: 8, lineStyle: { color: '#333', width: 2 }, customValues: xTickValues[p] },
    axisLabel: { customValues: xTickValues[p], margin: 12, fontFamily: serif, fontWeight: 'bold', fontSize: 25, color: '#1a1a1a' },
    splitLine: { show: false },
    name: 'True Values', nameLocation: 'middle', nameGap: 40,
    nameTextStyle: { fontFamily: serif, fontWeight: 'bold', fontSize: 27, color: '#111' }
  });
  yAxes.push({
    type: 'value', gridIndex: p, min: yr[0], max: yr[1],
    axisLine: { show: false },
    axisTick: { show: true, length: 8, lineStyle: { color: '#333', width: 2 }, customValues: yTickValues[p] },
    axisLabel: { customValues: yTickValues[p], margin: 12, fontFamily: serif, fontWeight: 'bold', fontSize: 25, color: '#1a1a1a' },
    splitLine: { show: false },
    name: 'Predictions', nameLocation: 'middle', nameGap: 50,
    nameTextStyle: { fontFamily: serif, fontWeight: 'bold', fontSize: 27, color: '#111' }
  });

  models.forEach(function (m, k) {
    series.push({
      type: 'scatter', name: m, xAxisIndex: p, yAxisIndex: p,
      symbol: symbols[k], symbolSize: symbolSizes[k], symbolKeepAspect: true,
      itemStyle: { color: colors[k], borderColor: '#ffffff', borderWidth: 0.9, opacity: 1 },
      data: rows.map(function (r) { return [r[0], r[k + 1]]; }),
      silent: true, z: 2
    });
  });

  // y = x reference line
  var split = dashedUntil[p];
  var lineBase = { type: 'line', xAxisIndex: p, yAxisIndex: p, symbol: 'none', silent: true, z: 5 };
  function addLine(a, b, dashed) {
    series.push(Object.assign({}, lineBase, {
      data: [[a, a], [b, b]],
      lineStyle: { color: '#ff0000', width: 3, type: dashed ? [12, 5] : 'solid' }
    }));
  }
  if (split >= xHi) addLine(xLo, xHi, true);
  else if (split <= xLo) addLine(xLo, xHi, false);
  else { addLine(xLo, split, true); addLine(split, xHi, false); }

  var boxLeft = gl + 13, boxTop = gt + 12;
  legends.push({
    data: models, orient: 'vertical', left: boxLeft, top: boxTop,
    padding: [46, 13, 11, 27], itemGap: 10.7, itemWidth: 14, itemHeight: 14,
    backgroundColor: 'rgba(255,255,255,0.85)', borderColor: '#d4d4d4', borderWidth: 1.5, borderRadius: 6,
    selectedMode: false,
    formatter: function (name) { return '{g| }' + name; },
    textStyle: {
      fontFamily: serif, fontSize: 25, color: '#1a1a1a', lineHeight: 25,
      rich: { g: { width: 34, lineHeight: 25 } }
    }
  });

  graphics.push({
    type: 'text', x: boxLeft + 102, y: boxTop + 22, z: 100,
    style: { text: 'Model', fill: '#1a1a1a', fontFamily: serif, fontSize: 29, align: 'center', verticalAlign: 'middle' }
  });
  graphics.push({
    type: 'text', x: gl + gridW / 2, y: gt - 24, z: 100,
    style: {
      text: '(' + letters[p] + ') Scatter Plot of True Values vs. Predictions - ' + sectors[p],
      fill: '#111', fontFamily: serif, fontWeight: 'bold', fontSize: 32, align: 'center', verticalAlign: 'middle'
    }
  });
});

var chart = echarts.init(document.getElementById('chart'), null, { renderer: 'canvas' });
chart.setOption({
  animation: false,
  backgroundColor: '#ffffff',
  textStyle: { fontFamily: serif },
  grid: grids,
  xAxis: xAxes,
  yAxis: yAxes,
  legend: legends,
  graphic: graphics,
  series: series
});
</script>
</body>
</html>
